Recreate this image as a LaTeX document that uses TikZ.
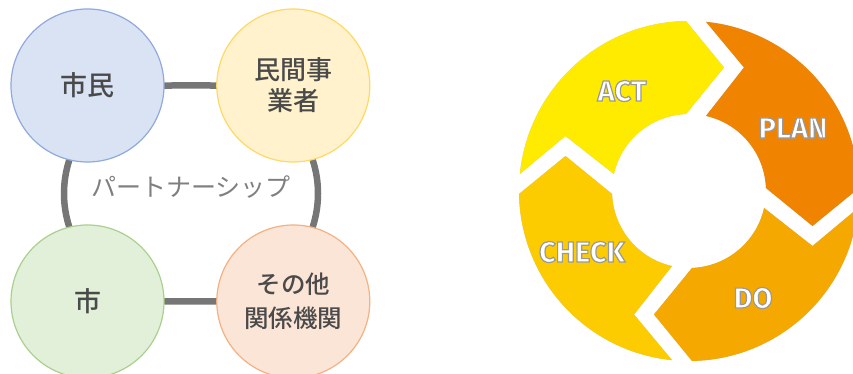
\documentclass[tikz,border=0pt]{standalone}
\usepackage{fontspec}
\newfontfamily\jpfont{Noto Sans CJK JP Medium}
\newfontfamily\jplightfont{Noto Sans CJK JP}
\newfontfamily\pdcafont{Fira Sans}
\usetikzlibrary{calc}
\definecolor{bluefill}{HTML}{DAE3F3}\definecolor{blueline}{HTML}{8FAADC}
\definecolor{yellowfill}{HTML}{FFF2CC}\definecolor{yellowline}{HTML}{FFD966}
\definecolor{greenfill}{HTML}{E2F0D9}\definecolor{greenline}{HTML}{A9D18E}
\definecolor{orangefill}{HTML}{FBE5D6}\definecolor{orangeline}{HTML}{F4B183}
\definecolor{ringgray}{HTML}{767676}
\definecolor{darktext}{HTML}{4A4A4A}
\definecolor{lighttext}{HTML}{7F7F7F}
\definecolor{actcol}{HTML}{FFEB00}
\definecolor{plancol}{HTML}{F08300}
\definecolor{docol}{HTML}{F5A900}
\definecolor{checkcol}{HTML}{FCCC00}
\newcommand{\outlinetext}[1]{\special{pdf:literal direct 0.6 0.6 0.6 RG 1.2 w 2 Tr}#1\special{pdf:literal direct 0 Tr}}
% segment of the PDCA ring: #1 = angle of tail boundary, #2 = options
\newcommand{\pdcaseg}[2]{%
  \pgfmathsetmacro\ta{#1}%
  \pgfmathsetmacro\tb{#1-90}%
  \fill[#2] ($(C)+(\ta-5.74:170)$) arc[start angle=\ta-5.74, end angle=\tb+1.01, radius=170]
    -- ($(C)+(\tb:123.5)+(\tb-90:35)$)
    -- ($(C)+(\tb+2.23:77)$) arc[start angle=\tb+2.23, end angle=\ta-12.75, radius=77]
    -- ($(C)+(\ta:123.5)+(\ta-90:55)$) -- cycle;}
\tikzset{
  party/.style={circle, minimum size=153pt, inner sep=0pt, line width=1.2pt,
    text=darktext, align=center},
  ring/.style={draw=ringgray, line width=6.5pt},
  pdcalabel/.style={text=white, font=\pdcafont\bfseries\fontsize{29}{32}\selectfont, inner sep=0pt},
  shadowA/.style={black, opacity=0.15, shift={(2pt,-3pt)}},
  shadowB/.style={black, opacity=0.09, shift={(4pt,-6pt)}},
}
\begin{document}
\begin{tikzpicture}[x=1pt,y=1pt]
\useasboundingbox (0,0) rectangle (853,374);
% ---------- PDCA cycle ----------
\coordinate (C) at (689,183);
\foreach \a in {90,0,-90,180} {\pdcaseg{\a}{shadowB}}
\foreach \a in {90,0,-90,180} {\pdcaseg{\a}{shadowA}}
\pdcaseg{90}{plancol}
\pdcaseg{0}{docol}
\pdcaseg{-90}{checkcol}
\pdcaseg{180}{actcol}
\node[pdcalabel] (act) at (622,283) {\outlinetext{ACT}};
\node[pdcalabel] (plan) at (793,246) {\outlinetext{PLAN}};
\node[pdcalabel] (check) at (582,122) {\outlinetext{CHECK}};
\node[pdcalabel] (do) at (753,76) {\outlinetext{DO}};
% ---------- partnership ----------
\draw[ring] (172,288.5) -- (210,288.5) arc[start angle=90, end angle=-90, radius=108]
  -- (172,72.5) arc[start angle=270, end angle=90, radius=108] -- cycle;
\node[font=\jplightfont\fontsize{25}{28}\selectfont, text=lighttext] (partner) at (191,187) {パートナーシップ};
\node[party, draw=blueline, fill=bluefill, font=\jpfont\fontsize{27}{30}\selectfont] (citizen) at (87.5,288.5) {市民};
\node[party, draw=yellowline, fill=yellowfill, font=\jpfont\fontsize{26}{31}\selectfont] (business) at (293.3,288.5) {民間事\\業者};
\node[party, draw=greenline, fill=greenfill, font=\jpfont\fontsize{27}{30}\selectfont] (city) at (87.5,72.5) {市};
\node[party, draw=orangeline, fill=orangefill, font=\jpfont\fontsize{24.5}{34}\selectfont] (others) at (293.3,72.5) {その他\\関係機関};
\end{tikzpicture}
\end{document}
